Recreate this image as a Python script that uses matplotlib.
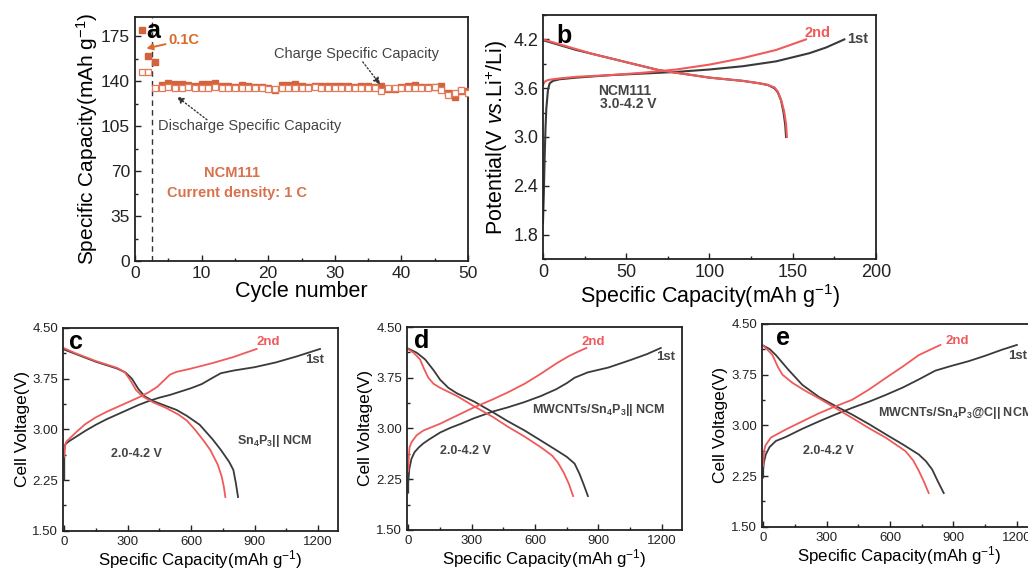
import matplotlib
matplotlib.use("Agg")
import matplotlib.pyplot as plt
from matplotlib.ticker import MultipleLocator, AutoMinorLocator, FormatStrFormatter

plt.rcParams['font.family'] = ['Liberation Sans', 'DejaVu Sans']
plt.rcParams['mathtext.fontset'] = 'custom'
plt.rcParams['mathtext.rm'] = 'Liberation Sans'
plt.rcParams['mathtext.it'] = 'Liberation Sans:italic'
plt.rcParams['mathtext.bf'] = 'Liberation Sans:bold'

DARK = '#3a3a3a'
RED = '#f05a5a'
ORANGE = '#d4623c'
ORANGE_TXT = '#d8724c'

# ---- (a) cycling of NCM111 ----
cycles = list(range(1, 51))
charge_cap = [180, 160, 155, 137, 138.5, 137.5, 137.5, 137, 136.5, 137.5,
              137.5, 138.5, 136.5, 136, 135.5, 137, 136.5, 135.5, 135.5, 134.5,
              133.5, 137, 137, 137.5, 136, 135.5, 136.5, 136, 136.5, 136,
              136, 136.5, 135.5, 136.5, 136, 135.5, 136.5, 134, 134, 135.5,
              136, 137, 135.5, 135.5, 135.5, 136, 131, 128, 132, 132]
discharge_cap = [147, 147, 134.5, 135, 135.5, 134.5, 135, 135.5, 135, 134.5,
                 135, 135.5, 135, 134.5, 135, 135, 134.5, 134.5, 135, 134,
                 134, 134.5, 135, 135, 135, 135, 135.5, 134.5, 134.5, 134.5,
                 134.5, 134.5, 135, 135, 134.5, 135, 132.5, 134.5, 134.5, 135,
                 135, 135, 134.5, 134.5, 135.5, 133, 129, 131, 133, 131]

# ---- (b) NCM111 half cell, 3.0-4.2 V ----
b_ch1_x = [0, 0.5, 1, 1.5, 2, 3, 4, 6, 10, 20, 40, 60, 80, 100, 120, 140, 160, 170, 181]
b_ch1_y = [1.95, 2.3, 2.75, 3.1, 3.35, 3.58, 3.66, 3.69, 3.71, 3.73, 3.76, 3.78, 3.80,
           3.83, 3.87, 3.93, 4.03, 4.10, 4.20]
b_ch2_x = [0, 1, 3, 6, 10, 20, 40, 60, 80, 100, 120, 140, 158]
b_ch2_y = [3.64, 3.68, 3.70, 3.71, 3.72, 3.74, 3.76, 3.79, 3.83, 3.89, 3.97, 4.07, 4.20]
b_dis1_x = [0, 10, 20, 30, 40, 50, 60, 70, 80, 90, 100, 110, 120, 130, 135, 139, 141,
            143, 144.5, 145.5, 146]
b_dis1_y = [4.19, 4.13, 4.07, 4.02, 3.97, 3.92, 3.87, 3.82, 3.79, 3.76, 3.73, 3.71, 3.69,
            3.66, 3.64, 3.60, 3.55, 3.45, 3.30, 3.15, 3.00]
b_dis2_x = [0, 10, 20, 30, 40, 50, 60, 70, 80, 90, 100, 110, 120, 130, 135, 139, 141,
            143, 144.8, 146, 146.5]
b_dis2_y = [4.20, 4.14, 4.08, 4.02, 3.97, 3.92, 3.87, 3.82, 3.79, 3.76, 3.73, 3.71, 3.69,
            3.66, 3.64, 3.61, 3.56, 3.46, 3.32, 3.16, 3.00]

# ---- (c) Sn4P3 || NCM full cell ----
c_ch1_x = [0, 0, 5, 20, 50, 100, 150, 200, 250, 300, 350, 400, 450, 500, 550, 600, 650,
           700, 740, 800, 900, 1000, 1100, 1210]
c_ch1_y = [2.25, 2.70, 2.78, 2.82, 2.88, 2.98, 3.07, 3.15, 3.22, 3.29, 3.36, 3.42, 3.47,
           3.51, 3.56, 3.61, 3.67, 3.76, 3.83, 3.87, 3.92, 3.99, 4.08, 4.19]
c_ch2_x = [0, 3, 10, 30, 60, 100, 150, 200, 250, 300, 350, 400, 440, 470, 500, 530, 600,
           700, 800, 910]
c_ch2_y = [2.60, 2.75, 2.82, 2.88, 2.97, 3.08, 3.18, 3.26, 3.33, 3.40, 3.47, 3.55, 3.63,
           3.72, 3.81, 3.85, 3.90, 3.98, 4.07, 4.19]
c_dis1_x = [0, 50, 100, 150, 200, 250, 290, 320, 350, 380, 420, 470, 530, 580, 640, 700,
            740, 780, 800, 812, 822]
c_dis1_y = [4.18, 4.12, 4.06, 4.00, 3.95, 3.90, 3.84, 3.75, 3.60, 3.49, 3.42, 3.36, 3.29,
            3.20, 3.07, 2.86, 2.70, 2.52, 2.40, 2.20, 2.00]
c_dis2_x = [0, 50, 100, 150, 200, 250, 285, 310, 340, 370, 420, 480, 540, 580, 620, 660,
            690, 726, 745, 755, 762]
c_dis2_y = [4.20, 4.13, 4.07, 4.01, 3.96, 3.91, 3.85, 3.74, 3.58, 3.49, 3.40, 3.32, 3.22,
            3.13, 2.99, 2.83, 2.70, 2.48, 2.30, 2.15, 2.00]

# ---- (d) MWCNTs/Sn4P3 || NCM ----
d_ch1_x = [0, 0, 5, 15, 30, 50, 72, 100, 151, 200, 250, 310, 400, 469, 550, 628, 700,
           750, 787, 850, 946, 1050, 1130, 1195]
d_ch1_y = [2.05, 2.20, 2.40, 2.55, 2.65, 2.72, 2.78, 2.84, 2.94, 3.01, 3.07, 3.15, 3.25,
           3.31, 3.39, 3.48, 3.58, 3.67, 3.75, 3.83, 3.90, 4.01, 4.10, 4.19]
d_ch2_x = [0, 2, 6, 16, 40, 72, 151, 230, 310, 400, 469, 550, 628, 700, 760, 800, 843]
d_ch2_y = [2.37, 2.55, 2.72, 2.80, 2.90, 2.97, 3.07, 3.19, 3.31, 3.43, 3.53, 3.66, 3.81,
           3.96, 4.07, 4.13, 4.19]
d_dis1_x = [0, 40, 80, 120, 151, 190, 230, 310, 400, 469, 550, 628, 700, 750, 787, 810,
            830, 850]
d_dis1_y = [4.18, 4.12, 4.02, 3.86, 3.72, 3.60, 3.52, 3.40, 3.24, 3.11, 2.97, 2.82, 2.68,
            2.58, 2.48, 2.33, 2.17, 2.00]
d_dis2_x = [0, 25, 56, 75, 95, 120, 151, 230, 310, 400, 469, 550, 628, 680, 707, 735,
            760, 780]
d_dis2_y = [4.17, 4.12, 4.02, 3.88, 3.75, 3.66, 3.60, 3.48, 3.33, 3.17, 3.03, 2.88, 2.72,
            2.60, 2.50, 2.35, 2.18, 2.00]

# ---- (e) MWCNTs/Sn4P3@C || NCM ----
e_ch1_x = [0, 0, 3, 12, 30, 60, 107, 185, 264, 340, 421, 500, 579, 660, 736, 814, 890,
           972, 1050, 1130, 1200]
e_ch1_y = [2.23, 2.35, 2.45, 2.57, 2.68, 2.77, 2.83, 2.95, 3.06, 3.16, 3.26, 3.35, 3.45,
           3.56, 3.68, 3.81, 3.88, 3.95, 4.03, 4.12, 4.19]
e_ch2_x = [0, 3, 10, 36, 107, 185, 264, 340, 421, 500, 579, 660, 736, 790, 838]
e_ch2_y = [2.40, 2.60, 2.70, 2.82, 2.94, 3.06, 3.18, 3.28, 3.38, 3.53, 3.70, 3.87, 4.04,
           4.12, 4.19]
e_dis1_x = [0, 30, 60, 120, 185, 264, 340, 421, 500, 579, 660, 736, 770, 799, 825, 854]
e_dis1_y = [4.18, 4.13, 4.04, 3.82, 3.60, 3.42, 3.29, 3.16, 3.02, 2.87, 2.72, 2.57, 2.47,
            2.35, 2.18, 2.00]
e_dis2_x = [0, 20, 44, 70, 91, 138, 200, 264, 340, 421, 500, 579, 673, 710, 736, 760, 783]
e_dis2_y = [4.18, 4.12, 4.04, 3.86, 3.75, 3.63, 3.51, 3.40, 3.26, 3.11, 2.96, 2.82, 2.62,
            2.48, 2.33, 2.17, 2.00]


def style_axes(ax, tick_size):
    for sp in ax.spines.values():
        sp.set_linewidth(1.3)
        sp.set_color('#222222')
    ax.tick_params(which='both', direction='in', top=False, right=False,
                   labelsize=tick_size, colors='#222222', width=1.0)
    ax.tick_params(which='major', length=4)
    ax.tick_params(which='minor', length=2.5)


fig = plt.figure(figsize=(10.28, 5.70), dpi=100)

# panel a
ax = fig.add_axes([0.1313, 0.5421, 0.3240, 0.4281])
ax.plot(cycles, charge_cap, 's', color=ORANGE, markersize=4.8, zorder=3)
ax.plot(cycles, discharge_cap, 's', markerfacecolor='white', markeredgecolor='#e27a5a',
        markeredgewidth=0.9, markersize=5, zorder=4)
ax.axvline(2.5, color='#333333', lw=1.0, ls=(0, (4, 3)), zorder=2)
ax.set_xlim(0, 50)
ax.set_ylim(0, 190)
ax.xaxis.set_major_locator(MultipleLocator(10))
ax.xaxis.set_minor_locator(MultipleLocator(5))
ax.yaxis.set_major_locator(MultipleLocator(35))
ax.yaxis.set_minor_locator(MultipleLocator(17.5))
style_axes(ax, 12.5)
ax.set_xlabel('Cycle number', fontsize=15.5, labelpad=0)
ax.set_ylabel('Specific Capacity(mAh g$^{-1}$)', fontsize=15, labelpad=1)
ax.text(1.7, 179, 'a', fontsize=18, fontweight='bold', va='center')
ax.annotate('0.1C', xy=(1.7, 165.5), xytext=(5.0, 172), fontsize=10.5,
            fontweight='bold', color='#d86a2a', va='center',
            arrowprops=dict(arrowstyle='-|>', color='#d86a2a', lw=1.4,
                            mutation_scale=9, shrinkA=0, shrinkB=0))
ax.annotate('Charge Specific Capacity', xy=(36.8, 137.5), xytext=(20.8, 161),
            fontsize=10.5, color='#444444', va='center')
ax.annotate('', xy=(36.8, 137.5), xytext=(34.2, 155),
            arrowprops=dict(arrowstyle='-|>', color='#333333', lw=1.0, ls=':',
                            mutation_scale=10, shrinkA=0, shrinkB=0))
ax.text(3.5, 105, 'Discharge Specific Capacity', fontsize=10.5, color='#444444',
        va='center')
ax.annotate('', xy=(6.3, 128), xytext=(10.8, 110),
            arrowprops=dict(arrowstyle='-|>', color='#333333', lw=1.0, ls=':',
                            mutation_scale=10, shrinkA=0, shrinkB=0))
ax.text(14.5, 68.5, 'NCM111', fontsize=10.5, fontweight='bold', color=ORANGE_TXT,
        ha='center', va='center')
ax.text(15.3, 53, 'Current density: 1 C', fontsize=10.5, fontweight='bold',
        color=ORANGE_TXT, ha='center', va='center')

# panel b
ax = fig.add_axes([0.5282, 0.5456, 0.3239, 0.4281])
ax.plot(b_ch1_x, b_ch1_y, color=DARK, lw=1.5)
ax.plot(b_dis1_x, b_dis1_y, color=DARK, lw=1.5)
ax.plot(b_ch2_x, b_ch2_y, color=RED, lw=1.5)
ax.plot(b_dis2_x, b_dis2_y, color=RED, lw=1.5)
ax.set_xlim(0, 200)
ax.set_ylim(1.5, 4.5)
ax.xaxis.set_major_locator(MultipleLocator(50))
ax.xaxis.set_minor_locator(MultipleLocator(25))
ax.yaxis.set_major_locator(MultipleLocator(0.6))
ax.yaxis.set_minor_locator(MultipleLocator(0.3))
ax.set_yticks([1.8, 2.4, 3.0, 3.6, 4.2])
ax.yaxis.set_major_formatter(FormatStrFormatter('%.1f'))
style_axes(ax, 13)
ax.set_xlabel('Specific Capacity(mAh g$^{-1}$)', fontsize=15.5, labelpad=1)
ax.set_ylabel(r'Potential(V $\mathit{vs}$.Li$^{+}$/Li)', fontsize=15.5, labelpad=2)
ax.text(8.2, 4.24, 'b', fontsize=18, fontweight='bold', va='center')
ax.text(33, 3.56, 'NCM111', fontsize=10, fontweight='bold', color='#444444', va='center')
ax.text(34, 3.40, '3.0-4.2 V', fontsize=10, fontweight='bold', color='#444444',
        va='center')
ax.text(157, 4.28, '2nd', fontsize=10.5, fontweight='bold', color=RED, va='center')
ax.text(182.5, 4.21, '1st', fontsize=10.5, fontweight='bold', color='#444444',
        va='center')


def full_cell(rect, letter, ch1, dis1, ch2, dis2, cell, cell_xy, range_xy, tags):
    ax = fig.add_axes(rect)
    ax.plot(ch1[0], ch1[1], color=DARK, lw=1.3)
    ax.plot(dis1[0], dis1[1], color=DARK, lw=1.3)
    ax.plot(ch2[0], ch2[1], color=RED, lw=1.3)
    ax.plot(dis2[0], dis2[1], color=RED, lw=1.3)
    ax.set_xlim(-6, 1295)
    ax.set_ylim(1.5, 4.5)
    ax.xaxis.set_major_locator(MultipleLocator(300))
    ax.xaxis.set_minor_locator(MultipleLocator(150))
    ax.yaxis.set_major_locator(MultipleLocator(0.75))
    ax.yaxis.set_minor_locator(AutoMinorLocator(2))
    ax.yaxis.set_major_formatter(FormatStrFormatter('%.2f'))
    style_axes(ax, 9.5)
    ax.set_xlabel('Specific Capacity(mAh g$^{-1}$)', fontsize=12.2, labelpad=0)
    ax.set_ylabel('Cell Voltage(V)', fontsize=12.5, labelpad=2)
    ax.text(tags[0], 4.3, letter, fontsize=18, fontweight='bold', va='center')
    ax.text(cell_xy[0], cell_xy[1], cell, fontsize=9, fontweight='bold',
            color='#444444', va='center')
    ax.text(range_xy[0], range_xy[1], '2.0-4.2 V', fontsize=9, fontweight='bold',
            color='#444444', va='center')
    ax.text(tags[1][0], tags[1][1], '2nd', fontsize=9.5, fontweight='bold', color=RED,
            va='center')
    ax.text(tags[2][0], tags[2][1], '1st', fontsize=9.5, fontweight='bold',
            color='#444444', va='center')
    return ax


full_cell([0.0613, 0.0687, 0.2675, 0.3559], 'c',
          (c_ch1_x, c_ch1_y), (c_dis1_x, c_dis1_y), (c_ch2_x, c_ch2_y), (c_dis2_x, c_dis2_y),
          r'Sn$_\mathbf{4}$P$_\mathbf{3}$|| NCM', (818, 2.83), (221, 2.63),
          (22, (911, 4.30), (1140, 4.03)))
full_cell([0.3959, 0.0704, 0.2675, 0.3559], 'd',
          (d_ch1_x, d_ch1_y), (d_dis1_x, d_dis1_y), (d_ch2_x, d_ch2_y), (d_dis2_x, d_dis2_y),
          r'MWCNTs/Sn$_\mathbf{4}$P$_\mathbf{3}$|| NCM', (585, 3.28), (151, 2.67),
          (25, (819, 4.28), (1175, 4.05)))
full_cell([0.7412, 0.0757, 0.2675, 0.3559], 'e',
          (e_ch1_x, e_ch1_y), (e_dis1_x, e_dis1_y), (e_ch2_x, e_ch2_y), (e_dis2_x, e_dis2_y),
          r'MWCNTs/Sn$_\mathbf{4}$P$_\mathbf{3}$@C|| NCM', (545, 3.18), (190, 2.62),
          (60, (862, 4.25), (1158, 4.02)))

fig.savefig('out.png', dpi=100)
